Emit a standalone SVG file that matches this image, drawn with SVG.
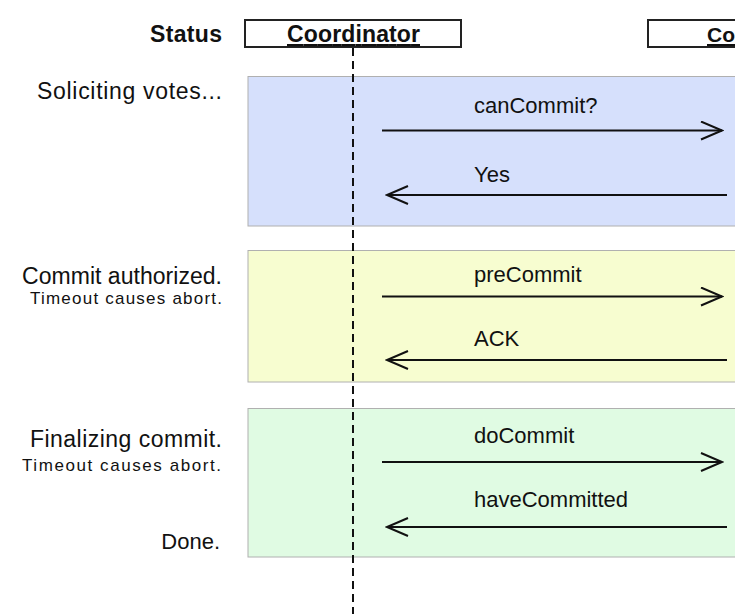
<svg xmlns="http://www.w3.org/2000/svg" width="735" height="614" viewBox="0 0 735 614">
<defs>
<style>
text{font-family:"Liberation Sans",Arial,Helvetica,sans-serif;fill:#111}
.hdr{font-weight:bold;font-size:23px;text-decoration:underline}
.st{font-size:23px;text-anchor:end}
.sm{font-size:17px;text-anchor:end}
.lbl{font-size:22px}
.box{stroke:#222;stroke-width:2;fill:#fff}
.phase{stroke:#b0b0b0;stroke-width:1}
.msg{stroke:#111;stroke-width:2;fill:none}
.life{stroke:#111;stroke-width:2;stroke-dasharray:8 5;fill:none}
</style>
<marker id="open" viewBox="0 0 24 20" refX="22" refY="10" markerWidth="24" markerHeight="20" markerUnits="userSpaceOnUse" orient="auto-start-reverse">
<path d="M1,1 L22,10 L1,19" fill="none" stroke="#111" stroke-width="2"/>
</marker>
</defs>
<g id="phase-voting"><rect class="phase" x="248" y="76.5" width="500" height="149.5" fill="#d6e0fc"/></g>
<g id="phase-precommit"><rect class="phase" x="248" y="250.5" width="500" height="131.5" fill="#f7fdd0"/></g>
<g id="phase-docommit"><rect class="phase" x="248" y="408.5" width="500" height="148.5" fill="#e0fbe3"/></g>
<g id="status-header"><text x="222" y="42" style="font-weight:bold;font-size:23px" text-anchor="end" textLength="72" lengthAdjust="spacing">Status</text></g>
<g id="coordinator"><rect class="box" x="245" y="20" width="216" height="27"/><text class="hdr" x="287" y="42" textLength="133" lengthAdjust="spacing">Coordinator</text></g>
<g id="cohort"><rect class="box" x="648" y="20" width="100" height="27"/><text class="hdr" x="707" y="42" style="font-size:21px">Co</text></g>
<g id="status-labels">
<text class="st" x="222" y="99" textLength="185" lengthAdjust="spacing">Soliciting votes...</text>
<text class="st" x="222" y="284" textLength="200" lengthAdjust="spacing">Commit authorized.</text>
<text class="sm" x="222" y="304" textLength="192" lengthAdjust="spacing">Timeout causes abort.</text>
<text class="st" x="222" y="447" textLength="192" lengthAdjust="spacing">Finalizing commit.</text>
<text class="sm" x="221" y="471" textLength="199" lengthAdjust="spacing">Timeout causes abort.</text>
<text class="st" x="220" y="549" style="font-size:22px">Done.</text>
</g>
<g id="connectors">
<line class="life" x1="353" y1="48" x2="353" y2="614"/>
<line class="msg" x1="382" y1="130.5" x2="722" y2="130.5" marker-end="url(#open)"/>
<line class="msg" x1="727" y1="195" x2="387" y2="195" marker-end="url(#open)"/>
<line class="msg" x1="382" y1="296.5" x2="722" y2="296.5" marker-end="url(#open)"/>
<line class="msg" x1="727" y1="360" x2="387" y2="360" marker-end="url(#open)"/>
<line class="msg" x1="382" y1="462" x2="722" y2="462" marker-end="url(#open)"/>
<line class="msg" x1="727" y1="527" x2="387" y2="527" marker-end="url(#open)"/>
<text class="lbl" x="474" y="113">canCommit?</text>
<text class="lbl" x="474" y="182">Yes</text>
<text class="lbl" x="474" y="282">preCommit</text>
<text class="lbl" x="474" y="346">ACK</text>
<text class="lbl" x="474" y="443">doCommit</text>
<text class="lbl" x="474" y="507">haveCommitted</text>
</g>
</svg>
